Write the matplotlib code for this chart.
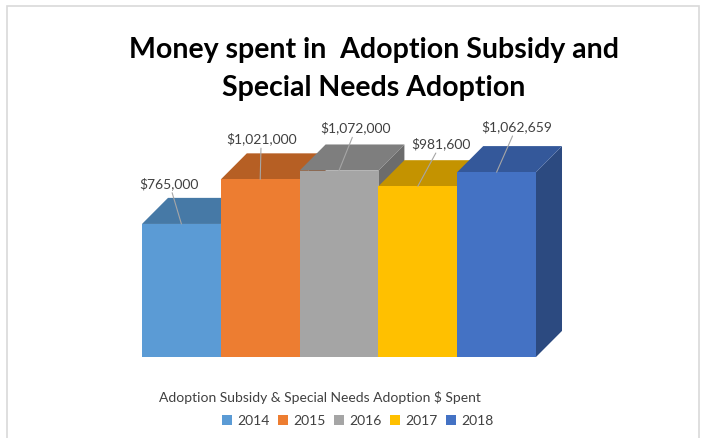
import matplotlib
matplotlib.use("Agg")
import matplotlib.pyplot as plt
from matplotlib.patches import Polygon, Patch, Rectangle

years = ["2014", "2015", "2016", "2017", "2018"]
spent = [765000, 1021000, 1072000, 981600, 1062659]
labels = ["$765,000", "$1,021,000", "$1,072,000", "$981,600", "$1,062,659"]
front_colors = ["#5B9BD5", "#ED7D31", "#A5A5A5", "#FFC000", "#4472C4"]
top_colors = ["#4679A6", "#B65F24", "#7E7E7E", "#C49300", "#34589A"]
side_colors = ["#3A6891", "#9E521F", "#6C6C6C", "#A97F00", "#2C4A80"]
# label offsets (pixels) from top-front centre of each bar
label_offsets = [(-12, 34), (1, 34), (17, 36), (23, 36), (20, 39)]

DX = 0.33       # depth in category units
DY = 150000     # depth in value units


def main():
    plt.rcParams['font.family'] = ['Lato', 'DejaVu Sans']
    fig = plt.figure(figsize=(7.01, 4.38), dpi=100)
    W, H = 701, 438

    # light chart border
    fig.patches.append(Rectangle((7 / W, -0.1), (699 - 7) / W, 1.1 - 6 / H,
                                 transform=fig.transFigure, fill=False,
                                 edgecolor="#D9D9D9", linewidth=1.2))

    ax = fig.add_axes([142 / W, 81 / H, 394 / W, 208.7 / H])
    ax.set_xlim(-0.5, 4.5)
    ax.set_ylim(0, 1200000)
    ax.axis("off")

    for i, v in enumerate(spent):
        x0, x1 = i - 0.5, i + 0.5
        z = 2 + i * 3
        side = Polygon([(x1, 0), (x1 + DX, DY), (x1 + DX, v + DY), (x1, v)],
                       closed=True, facecolor=side_colors[i], edgecolor="none",
                       zorder=z, clip_on=False)
        top = Polygon([(x0, v), (x1, v), (x1 + DX, v + DY), (x0 + DX, v + DY)],
                      closed=True, facecolor=top_colors[i], edgecolor="none",
                      zorder=z + 1, clip_on=False)
        ax.add_patch(side)
        ax.add_patch(top)
        ax.bar(i, v, width=1, color=front_colors[i], zorder=z + 2,
               clip_on=False, edgecolor="none")

    for i, v in enumerate(spent):
        ox, oy = label_offsets[i]
        ax.annotate(labels[i], xy=(i, v), xytext=(ox, oy),
                    textcoords="offset pixels", ha="center", va="bottom",
                    fontsize=10, color="#404040", zorder=30,
                    arrowprops=dict(arrowstyle="-", color="#A6A6A6", lw=0.8,
                                    shrinkA=0, shrinkB=0),
                    annotation_clip=False)

    fig.text(374 / W, 1 - 69 / H, "Money spent in  Adoption Subsidy and\nSpecial Needs Adoption",
             ha="center", va="center", fontsize=20.5, fontweight="bold",
             color="black", linespacing=1.55)

    fig.text(320 / W, 1 - 398 / H, "Adoption Subsidy & Special Needs Adoption $ Spent",
             ha="center", va="center", fontsize=10, color="#404040")

    handles = [Patch(facecolor=c, edgecolor="none") for c in front_colors]
    fig.legend(handles, years, loc="center", bbox_to_anchor=(358 / W, 1 - 421 / H),
               ncol=5, frameon=False, fontsize=10, handlelength=0.7,
               handleheight=0.7, handletextpad=0.4, columnspacing=0.6,
               labelcolor="#404040")

    fig.savefig("out.png", dpi=100, facecolor="white")


if __name__ == '__main__':
    main()
